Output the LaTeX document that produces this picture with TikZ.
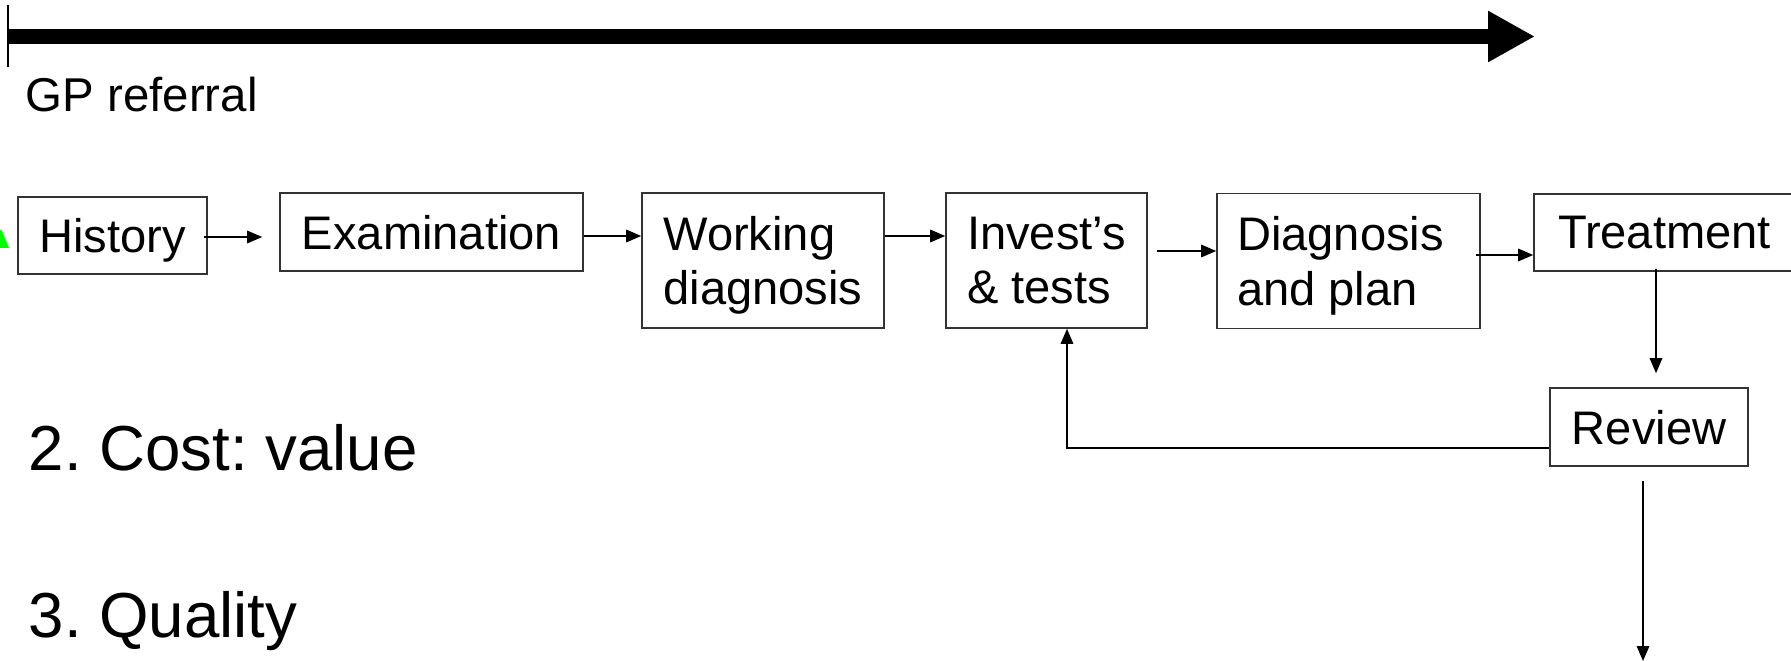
\documentclass[tikz,border=0pt]{standalone}
\usepackage{fontspec}
\setmainfont{Liberation Sans}
\usetikzlibrary{arrows.meta}
\frenchspacing

\begin{document}
\begin{tikzpicture}[x=0.1mm, y=-0.1mm,
	stage/.style={draw=black!80, line width=0.45pt, inner sep=0pt, align=left, text depth=0pt,
		font=\fontsize{13.4pt}{15.4pt}\selectfont},
	arr/.style={line width=0.45pt, -{Triangle[length=1.5mm,width=1.25mm]}},
	big/.style={font=\fontsize{18.1pt}{20pt}\selectfont, anchor=base west, inner sep=0pt}]
	\useasboundingbox (0,0) rectangle (1791,661);

	%time line
	\coordinate (start) at (8,36.5);
	\coordinate (finish) at (1535,36.5);
	\draw[line width=1.5mm, -{Triangle[length=4.7mm,width=4.8mm]}] (start) -- (finish);
	\draw[line width=0.45pt] (8,5) -- (8,67);
	\node[font=\fontsize{13.5pt}{15.4pt}\selectfont, anchor=base west, inner sep=0pt] (gp) at (25,112){GP referral};

	%green marker, cut by the left edge
	\fill[green] (-8,248) -- (1,229) -- (9,248) -- cycle;

	%stages
	\node[stage, minimum width=18.9mm, minimum height=7.7mm] (hist) at (112.5,235.5){History};
	\node[stage, minimum width=30.3mm, minimum height=7.8mm] (exam) at (431.5,232){Examination};
	\node[stage, minimum width=24.2mm, minimum height=13.5mm] (work) at (763,260.5){Working\\diagnosis};
	\node[stage, minimum width=20.1mm, minimum height=13.5mm] (inv) at (1046.5,260.5){Invest’s\\\& tests};
	\node[stage, minimum width=26.3mm, minimum height=13.5mm] (diag) at (1348.5,261){\parbox[b]{22.3mm}{Diagnosis\\and plan}};
	\node[stage, minimum width=26.1mm, minimum height=7.7mm] (treat) at (1664.5,232.5){Treatment};
	\node[stage, minimum width=19.8mm, minimum height=7.8mm] (review) at (1649,427){Review};

	\draw[arr] ([xshift=-0.4mm,yshift=-0.15mm]hist.east) -- ([xshift=-1.7mm,yshift=-0.15mm]hist.east -| exam.west);
	\draw[arr] ([yshift=-0.4mm]exam.east) -- ([yshift=-0.4mm]exam.east -| work.west);
	\draw[arr] ([yshift=2.45mm]work.east) -- ([yshift=2.45mm]work.east -| inv.west);
	\draw[arr] ([xshift=0.9mm,yshift=0.95mm]inv.east) -- ([yshift=0.95mm]inv.east -| diag.west);
	\draw[arr] ([xshift=-0.5mm,yshift=0.6mm]diag.east) -- ([yshift=0.6mm]diag.east -| treat.west);
	\draw[arr] ([xshift=-0.85mm,yshift=0.3mm]treat.south) -- ([xshift=0.7mm,yshift=1.4mm]review.north);

	%loop back and way out
	\draw[arr] ([yshift=-2.1mm]review.west) -| ([xshift=2.05mm]inv.south);
	\coordinate (exit) at (1643,661);
	\draw[arr] ([yshift=-1.4mm]review.south -| exit) -- (exit);

	\node[big] (cost) at (28,471){2. Cost: value};
	\node[big] (quality) at (28,637){3. Quality};
\end{tikzpicture}
\end{document}
